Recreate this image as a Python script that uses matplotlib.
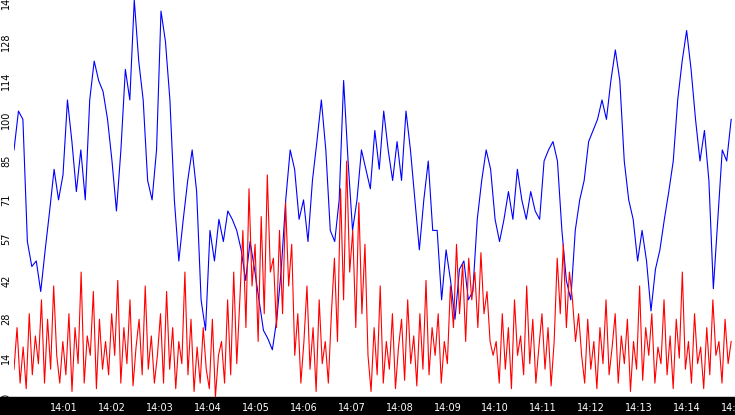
import numpy as np
import matplotlib
matplotlib.use("Agg")
import matplotlib.pyplot as plt
from matplotlib.patches import Rectangle

blue_vals = [89,103,100,56,47,49,38,53,67,82,71,80,107,92,74,89,71,107,121,114,110,100,85,67,89,118,107,143,121,107,78,71,89,139,128,107,71,49,64,78,89,74,35,24,60,49,64,56,67,64,60,53,42,56,46,35,24,21,17,28,46,71,89,82,64,71,56,78,92,107,89,60,56,71,114,85,60,71,89,82,75,96,82,103,89,78,92,78,103,89,71,53,71,85,60,60,35,53,42,28,46,49,35,38,64,78,89,82,64,56,64,74,64,82,71,64,74,67,64,85,89,92,85,60,42,35,60,71,78,92,96,100,107,100,114,125,114,85,71,64,49,60,49,31,46,53,64,74,85,107,121,132,118,100,85,96,78,39,64,89,85,100]
red_vals = [10,25,5,18,3,30,8,22,12,35,5,28,10,40,15,
            5,20,8,30,2,25,12,45,5,22,15,38,3,28,10,20,
            8,30,15,42,5,25,12,35,4,18,28,8,40,10,22,5,
            15,30,5,38,10,25,3,20,12,45,8,28,2,18,5,25,
            10,3,28,0,15,20,5,35,8,45,12,
            35,60,25,75,40,55,20,65,30,80,45,50,25,60,30,70,40,55,
            15,30,5,20,40,10,25,2,35,12,20,5,30,
            50,20,75,35,85,45,60,25,70,30,55,
            15,2,25,8,40,5,20,10,30,3,18,28,6,35,12,22,4,30,10,42,8,25,15,30,5,20,12,
            40,25,55,30,48,20,50,35,45,25,52,30,38,20,15,
            20,5,30,10,25,3,35,15,22,8,40,12,28,5,18,30,10,25,4,20,
            50,30,55,25,45,35,20,30,
            15,5,28,10,20,3,25,12,35,8,18,30,5,22,12,28,2,20,10,40,6,25,15,30,5,18,12,35,8,22,3,28,14,45,10,20,5,30,12,18,3,25,8,35,15,20,5,28,12,20]
t_start, t_end = -0.04, 14.92
y_ticks = [0,14,28,42,57,71,85,100,114,128,143]
x_ticks = list(range(1,16))
x_labels = ["14:%02d" % m for m in x_ticks]

fig = plt.figure(figsize=(7.35,4.15), dpi=100)
fig.patches.append(Rectangle((0,0),1,18/415,transform=fig.transFigure,color='black',zorder=-5))
ax = fig.add_axes([14/735, 18/415, 721/735, 397/415])
ax.set_facecolor('none')
tb = np.linspace(t_start, t_end, len(blue_vals))
tr = np.linspace(t_start, t_end, len(red_vals))
ax.plot(tb, blue_vals, color='#0000ff', lw=0.8)
ax.plot(tr, red_vals, color='#ff0000', lw=0.8)
ax.set_xlim(t_start, t_end)
ax.set_ylim(0,143)
for s in ax.spines.values():
    s.set_visible(False)
ax.set_yticks(y_ticks)
ax.set_yticklabels([str(v) for v in y_ticks], rotation=90, fontsize=7, va='center')
ax.tick_params(axis='y', length=0, pad=2)
ax.set_xticks(x_ticks)
ax.set_xticklabels(x_labels, fontsize=7, color='white')
ax.tick_params(axis='x', length=0, pad=4)
fig.savefig("out.png", dpi=100)
